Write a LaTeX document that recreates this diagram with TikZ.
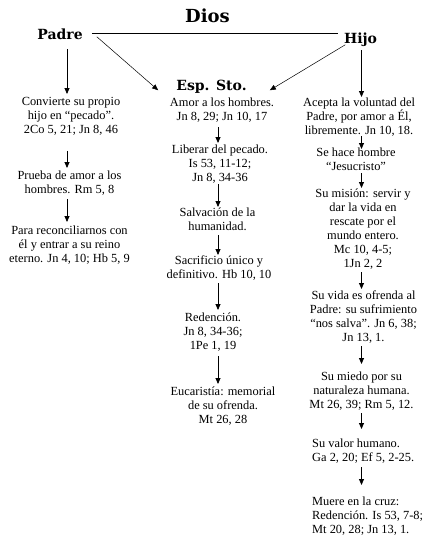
\documentclass[tikz,border=0pt]{standalone}
\usepackage{fontspec}
\setmainfont{Liberation Serif}
\newfontfamily\ttlfont{DejaVu Serif}
\usetikzlibrary{arrows.meta}
\begin{document}
\begin{tikzpicture}[x=1pt,y=-1pt,
  body/.style={font=\fontsize{12.4}{14}\selectfont, align=center, inner sep=0pt, anchor=north,
    execute at begin node=\strut, execute at end node=\strut},
  lbody/.style={body, align=left, anchor=north west},
  ttl/.style={font=\ttlfont\bfseries\fontsize{14}{16}\selectfont, inner sep=0pt, anchor=base},
  arr/.style={-{Triangle[length=6pt,width=5pt]}, line width=0.8pt},
  ln/.style={line width=0.7pt}]
\useasboundingbox (0,0) rectangle (434,542);
\coordinate (c1) at (67,0);
\coordinate (c2) at (218,0);
\coordinate (c3) at (361.5,0);
% titles
\node[ttl, font=\ttlfont\bfseries\fontsize{18}{20}\selectfont] (Dios) at (207.5,22) {Dios};
\node[ttl] (Padre) at (60,39) {Padre};
\node[ttl] (Hijo) at (360.5,43) {Hijo};
\node[ttl] (Esp) at (211.5,90) {Esp. Sto.};
% left column
\node[body] (L1) at (71,97.2) {Convierte su propio\\hijo en “pecado”.\\2Co 5, 21; Jn 8, 46};
\node[body] (L2) at (69.5,170.2) {Prueba de amor a los\\hombres. Rm 5, 8};
\node[body] (L3) at (69.5,225.2) {Para reconciliarnos con\\él y entrar a su reino\\eterno. Jn 4, 10; Hb 5, 9};
% middle column
\node[body] (M1) at (222,97.2) {Amor a los hombres.\\Jn 8, 29; Jn 10, 17};
\node[body] (M2) at (220,144.2) {Liberar del pecado.\\Is 53, 11-12;\\Jn 8, 34-36};
\node[body] (M3) at (217.5,207.2) {Salvación de la\\humanidad.};
\node[body] (M4) at (219,255.2) {Sacrificio único y\\definitivo. Hb 10, 10};
\node[body] (M5) at (213,312.2) {Redención.\\Jn 8, 34-36;\\1Pe 1, 19};
\node[body] (M6) at (223,386.2) {Eucaristía: memorial\\de su ofrenda.\\Mt 26, 28};
% right column
\node[body] (R1) at (359,97.2) {Acepta la voluntad del\\Padre, por amor a Él,\\libremente. Jn 10, 18.};
\node[body] (R2) at (356,147.2) {Se hace hombre\\“Jesucristo”};
\node[body] (R3) at (363,188.2) {Su misión: servir y\\dar la vida en\\rescate por el\\mundo entero.\\Mc 10, 4-5;\\1Jn 2, 2};
\node[body] (R4) at (363.5,290.2) {Su vida es ofrenda al\\Padre: su sufrimiento\\“nos salva”. Jn 6, 38;\\Jn 13, 1.};
\node[body] (R5) at (361.5,371.2) {Su miedo por su\\naturaleza humana.\\Mt 26, 39; Rm 5, 12.};
\node[lbody] (R6) at (312,438.2) {Su valor humano.\\Ga 2, 20; Ef 5, 2-25.};
\node[lbody] (R7) at (312,496.2) {Muere en la cruz:\\Redención. Is 53, 7-8;\\Mt 20, 28; Jn 13, 1.};
% top connectors
\draw[ln, shorten <=9pt, shorten >=6pt] (Padre.east) -- (Padre.east -| Hijo.west);
\draw[-{Triangle[length=6pt,width=5pt]}, line width=0.5pt] ([shift={(14,3)}]Padre.east) -- ([shift={(-18,4)}]Esp.west);
\draw[-{Triangle[length=6pt,width=5pt]}, line width=0.5pt] ([shift={(1.5,5.5)}]Hijo.west) -- ([shift={(23,4)}]Esp.east);
% left arrows
\draw[arr, shorten <=10pt, shorten >=3.2pt] (Padre.south -| c1) -- (L1.north -| c1);
\draw[arr, shorten <=12.8pt, shorten >=2.2pt] (L1.south -| c1) -- (L2.north -| c1);
\draw[arr, shorten <=1.8pt, shorten >=3.2pt] (L2.south -| c1) -- (L3.north -| c1);
% middle arrows
\draw[arr, shorten <=2.8pt, shorten >=1.2pt] (M1.south -| c2) -- (M2.north -| c2);
\draw[arr, shorten <=-1.2pt, shorten >=0.2pt] (M2.south -| c2) -- (M3.north -| c2);
\draw[arr, shorten <=0.8pt, shorten >=0.2pt] (M3.south -| c2) -- (M4.north -| c2);
\draw[arr, shorten <=0.8pt, shorten >=2.2pt] (M4.south -| c2) -- (M5.north -| c2);
\draw[arr, shorten <=2.8pt, shorten >=2.2pt] (M5.south -| c2) -- (M6.north -| c2);
% right arrows
\draw[arr, shorten <=4pt, shorten >=0.2pt] (Hijo.south -| c3) -- (R1.north -| c3);
\draw[arr, shorten <=-2.2pt, shorten >=-1.8pt] (R1.south -| c3) -- (R2.north -| c3);
\draw[arr, shorten <=-1.2pt, shorten >=0.2pt] (R2.south -| c3) -- (R3.north -| c3);
\draw[arr, shorten <=0.8pt, shorten >=1.2pt] (R3.south -| c3) -- (R4.north -| c3);
\draw[arr, shorten <=0.8pt, shorten >=7.2pt] (R4.south -| c3) -- (R5.north -| c3);
\draw[arr, shorten <=0.8pt, shorten >=9.2pt] (R5.south -| c3) -- (R6.north -| c3);
\draw[arr, shorten <=1.8pt, shorten >=11.2pt] (R6.south -| c3) -- (R7.north -| c3);
\end{tikzpicture}
\end{document}
